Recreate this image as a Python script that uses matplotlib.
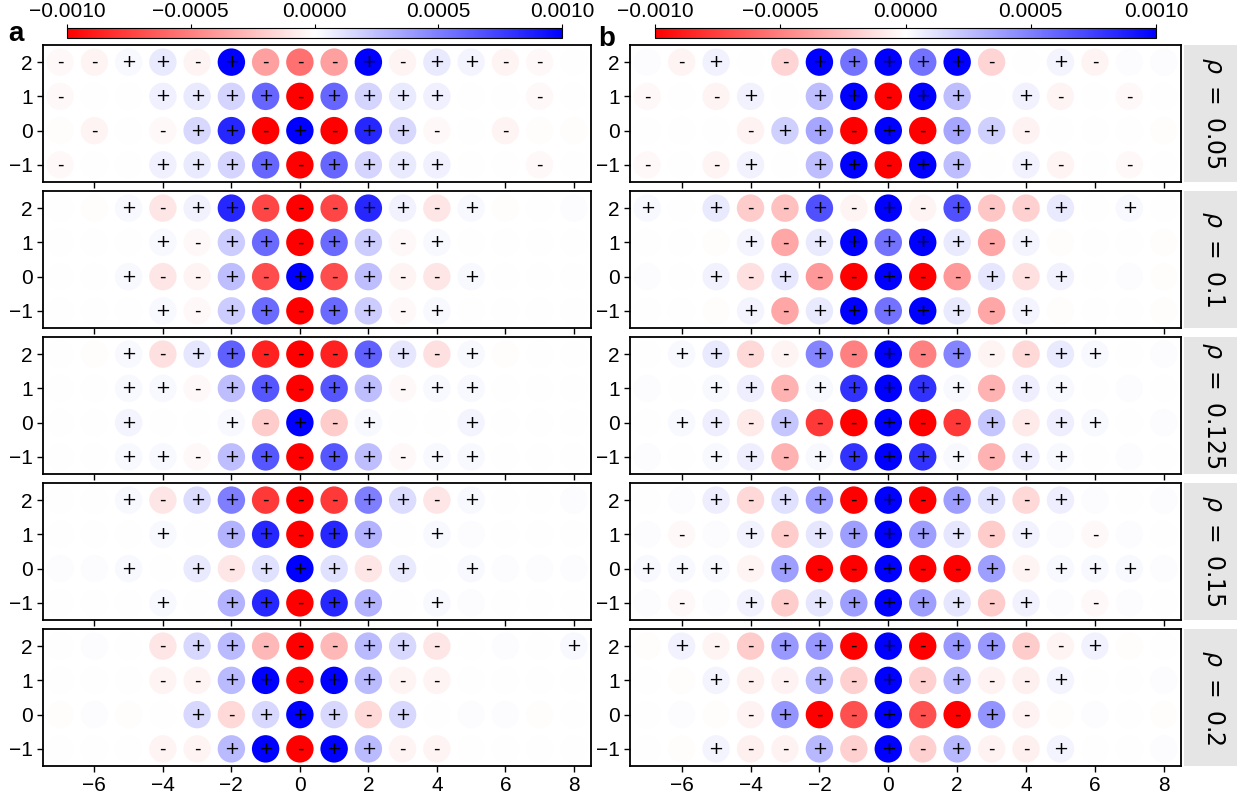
import numpy as np
import matplotlib.pyplot as plt
from matplotlib.colors import Normalize
from matplotlib.cm import ScalarMappable
from matplotlib.ticker import FuncFormatter

plt.rcParams['font.family'] = ['Liberation Sans', 'DejaVu Sans']
plt.rcParams['axes.unicode_minus'] = True

# grid sites
xs = list(range(-7, 9))
ys = [2, 1, 0, -1]
rhos = ["0.05", "0.1", "0.125", "0.15", "0.2"]

# values in units of 1e-3, one row per y (2, 1, 0, -1), columns x = -7..8
a_005 = [
    [-0.03, -0.04, 0.03, 0.08, -0.04, 1.0, -0.37, -0.56, -0.37, 1.0, -0.04, 0.08, 0.04, -0.04, -0.03, 0.0],
    [-0.03, 0.005, 0.005, 0.06, 0.08, 0.17, 0.6, -1.0, 0.6, 0.17, 0.08, 0.06, 0.005, 0.005, -0.03, 0.0],
    [-0.015, -0.04, 0.005, -0.03, 0.15, 0.85, -1.0, 1.0, -1.0, 0.85, 0.15, -0.03, 0.005, -0.04, -0.01, -0.01],
    [-0.03, 0.005, 0.005, 0.06, 0.08, 0.17, 0.6, -1.0, 0.6, 0.17, 0.08, 0.06, 0.005, 0.005, -0.03, 0.0],
]
a_01 = [
    [0.005, -0.01, 0.03, -0.1, 0.05, 0.85, -0.72, -1.0, -0.72, 0.85, 0.05, -0.1, 0.03, -0.01, 0.0, 0.01],
    [0.005, 0.005, 0.005, 0.03, -0.03, 0.2, 0.58, -1.0, 0.58, 0.2, -0.03, 0.03, 0.005, 0.005, 0.005, 0.005],
    [0.005, 0.005, 0.03, -0.1, -0.04, 0.25, -0.7, 1.0, -0.7, 0.25, -0.04, -0.1, 0.03, 0.005, 0.005, 0.005],
    [0.005, 0.005, 0.005, 0.03, -0.03, 0.2, 0.58, -1.0, 0.58, 0.2, -0.03, 0.03, 0.005, 0.005, 0.005, 0.005],
]
a_0125 = [
    [0.005, -0.01, 0.03, -0.12, 0.1, 0.62, -0.87, -1.0, -0.87, 0.62, 0.1, -0.12, 0.03, -0.01, 0.0, 0.005],
    [0.005, 0.005, 0.03, 0.03, -0.03, 0.25, 0.66, -1.0, 0.66, 0.25, -0.03, 0.03, 0.03, 0.005, 0.005, 0.005],
    [0.005, 0.005, 0.04, 0.005, 0.005, 0.03, -0.2, 1.0, -0.2, 0.03, 0.005, 0.005, 0.04, 0.005, 0.005, 0.005],
    [0.005, 0.005, 0.03, 0.03, -0.03, 0.25, 0.66, -1.0, 0.66, 0.25, -0.03, 0.03, 0.03, 0.005, 0.005, 0.005],
]
a_015 = [
    [0.005, 0.005, 0.03, -0.1, 0.14, 0.5, -0.78, -1.0, -0.78, 0.5, 0.14, -0.1, 0.03, 0.005, 0.005, 0.01],
    [0.005, 0.005, 0.005, 0.03, 0.005, 0.3, 0.85, -1.0, 0.85, 0.3, 0.005, 0.03, 0.008, 0.005, 0.005, 0.005],
    [0.01, 0.01, 0.03, 0.005, 0.08, -0.1, 0.12, 1.0, 0.12, -0.1, 0.08, 0.005, 0.03, 0.01, 0.01, 0.01],
    [0.005, 0.005, 0.005, 0.03, 0.005, 0.3, 0.85, -1.0, 0.85, 0.3, 0.005, 0.03, 0.008, 0.005, 0.005, 0.005],
]
a_02 = [
    [0.005, 0.015, 0.005, -0.1, 0.15, 0.27, -0.28, -1.0, -0.28, 0.27, 0.15, -0.1, 0.005, 0.015, 0.005, 0.03],
    [0.005, 0.005, 0.005, -0.04, -0.04, 0.27, 1.0, -1.0, 1.0, 0.27, -0.04, -0.04, 0.005, 0.005, 0.005, 0.005],
    [-0.01, 0.015, -0.01, 0.005, 0.15, -0.15, 0.15, 1.0, 0.15, -0.15, 0.15, 0.005, 0.008, 0.015, -0.01, 0.005],
    [0.005, 0.005, 0.005, -0.04, -0.04, 0.27, 1.0, -1.0, 1.0, 0.27, -0.04, -0.04, 0.005, 0.005, 0.005, 0.005],
]

b_005 = [
    [0.015, -0.04, 0.05, 0.005, -0.17, 1.0, 0.55, 1.0, 0.55, 1.0, -0.17, 0.005, 0.04, -0.04, 0.015, 0.01],
    [-0.03, 0.005, -0.04, 0.05, 0.005, 0.25, 1.0, -1.0, 1.0, 0.25, 0.005, 0.05, -0.04, 0.005, -0.03, 0.005],
    [0.005, 0.005, 0.005, -0.05, 0.18, 0.35, -1.0, 1.0, -1.0, 0.35, 0.18, -0.05, 0.005, 0.005, 0.005, -0.015],
    [-0.03, 0.005, -0.04, 0.05, 0.005, 0.25, 1.0, -1.0, 1.0, 0.25, 0.005, 0.05, -0.04, 0.005, -0.03, 0.005],
]
b_01 = [
    [0.03, 0.005, 0.08, -0.2, -0.25, 0.68, -0.04, 1.0, -0.04, 0.68, -0.22, -0.18, 0.08, 0.005, 0.03, 0.005],
    [0.005, 0.005, -0.015, 0.04, -0.35, 0.08, 1.0, 0.55, 1.0, 0.08, -0.35, 0.04, -0.015, 0.005, 0.005, -0.01],
    [0.01, 0.005, 0.05, -0.12, 0.1, -0.4, -1.0, 1.0, -1.0, -0.4, 0.1, -0.12, 0.05, 0.005, 0.008, -0.01],
    [0.005, 0.005, -0.015, 0.04, -0.35, 0.08, 1.0, 0.55, 1.0, 0.08, -0.35, 0.04, -0.015, 0.005, 0.005, -0.01],
]
b_0125 = [
    [0.005, 0.03, 0.08, -0.15, -0.04, 0.48, -0.5, 1.0, -0.5, 0.48, -0.04, -0.15, 0.08, 0.03, 0.005, 0.01],
    [0.01, 0.005, 0.03, 0.07, -0.3, 0.03, 0.8, 1.0, 0.8, 0.03, -0.3, 0.07, 0.03, 0.005, 0.01, 0.005],
    [0.005, 0.03, 0.07, -0.08, 0.22, -0.78, -1.0, 1.0, -1.0, -0.78, 0.22, -0.08, 0.07, 0.03, 0.005, 0.01],
    [0.01, 0.005, 0.03, 0.07, -0.3, 0.03, 0.8, 1.0, 0.8, 0.03, -0.3, 0.07, 0.03, 0.005, 0.01, 0.005],
]
b_015 = [
    [0.005, 0.01, 0.07, -0.15, 0.12, 0.38, -1.0, 1.0, -1.0, 0.38, 0.12, -0.15, 0.07, 0.01, 0.005, 0.01],
    [0.01, -0.03, 0.01, 0.05, -0.2, 0.1, 0.38, 1.0, 0.38, 0.1, -0.2, 0.05, 0.01, -0.03, 0.01, 0.005],
    [0.03, 0.03, 0.03, -0.04, 0.38, -1.0, -1.0, 1.0, -1.0, -1.0, 0.38, -0.04, 0.03, 0.03, 0.03, 0.01],
    [0.01, -0.03, 0.01, 0.05, -0.2, 0.1, 0.38, 1.0, 0.38, 0.1, -0.2, 0.05, 0.01, -0.03, 0.01, 0.005],
]
b_02 = [
    [-0.01, 0.05, -0.04, -0.2, 0.4, 0.4, -1.0, 1.0, -1.0, 0.4, 0.4, -0.2, -0.04, 0.05, -0.01, 0.005],
    [0.005, -0.01, 0.04, -0.06, -0.05, 0.28, -0.18, 1.0, -0.18, 0.28, -0.05, -0.06, 0.04, 0.005, 0.005, 0.015],
    [0.005, 0.015, -0.015, -0.05, 0.42, -1.0, -0.68, 1.0, -0.68, -1.0, 0.42, -0.05, -0.015, 0.015, 0.005, -0.01],
    [0.005, -0.01, 0.04, -0.06, -0.05, 0.28, -0.18, 1.0, -0.18, 0.28, -0.05, -0.06, 0.04, 0.005, 0.005, 0.015],
]

col_a = [a_005, a_01, a_0125, a_015, a_02]
col_b = [b_005, b_01, b_0125, b_015, b_02]

W, H = 1237, 801
fig = plt.figure(figsize=(W / 100, H / 100), dpi=100)

norm = Normalize(vmin=-0.001, vmax=0.001)
cmap = 'bwr_r'
sign_min = 0.025  # below this no sign is printed


def px_box(left, top, width, height):
    return [left / W, 1 - (top + height) / H, width / W, height / H]


def draw_panel(ax, vals, last):
    X, Y = np.meshgrid(xs, ys)
    V = np.array(vals) * 1e-3
    ax.scatter(X.ravel(), Y.ravel(), c=V.ravel(), cmap=cmap, norm=norm,
               s=390, edgecolors='none', zorder=2)
    for yi, y in enumerate(ys):
        for xi, x in enumerate(xs):
            v = vals[yi][xi]
            if abs(v) >= sign_min:
                ax.text(x, y, '+' if v > 0 else '-', ha='center', va='center',
                        fontsize=13, family='DejaVu Sans', zorder=3)
    ax.set_xlim(-7.5, 8.5)
    ax.set_ylim(-1.5, 2.5)
    ax.set_yticks(ys)
    ax.set_xticks(range(-6, 9, 2))
    ax.tick_params(labelsize=15, length=4, width=1)
    if not last:
        ax.set_xticklabels([])
    for sp in ax.spines.values():
        sp.set_linewidth(1.3)


panel_h = 137
tops = [45 + 146 * i for i in range(5)]

for i in range(5):
    ax_a = fig.add_axes(px_box(43, tops[i], 548, panel_h))
    draw_panel(ax_a, col_a[i], i == 4)
    ax_b = fig.add_axes(px_box(630, tops[i], 551, panel_h))
    draw_panel(ax_b, col_b[i], i == 4)

    # grey facet strip with the rho value
    strip = fig.add_axes(px_box(1184, tops[i], 60, panel_h))
    strip.set_facecolor('#e5e5e5')
    strip.set_xticks([])
    strip.set_yticks([])
    for sp in strip.spines.values():
        sp.set_visible(False)
    strip.text(0.5, 0.5, r'$\rho\ =\ %s$' % rhos[i], rotation=-90,
               ha='center', va='center', fontsize=17, transform=strip.transAxes)

# colorbars on top of each column
fmt = FuncFormatter(lambda v, pos: f"{v:.4f}".replace('-', '\u2212') if abs(v) > 1e-12 else "0.0000")
sm = ScalarMappable(norm=norm, cmap=cmap)
for left, width in [(67, 495), (655, 501)]:
    cax = fig.add_axes(px_box(left, 28, width, 10))
    cb = fig.colorbar(sm, cax=cax, orientation='horizontal',
                      ticks=[-0.001, -0.0005, 0, 0.0005, 0.001], format=fmt)
    cax.xaxis.set_ticks_position('top')
    cax.tick_params(labelsize=15, length=3, width=0.8, pad=2)
    cb.outline.set_linewidth(0.8)

fig.text(8 / W, 1 - 41 / H, 'a', fontsize=20, fontweight='bold')
fig.text(598 / W, 1 - 46 / H, 'b', fontsize=20, fontweight='bold')

fig.savefig('out.png', dpi=100)
